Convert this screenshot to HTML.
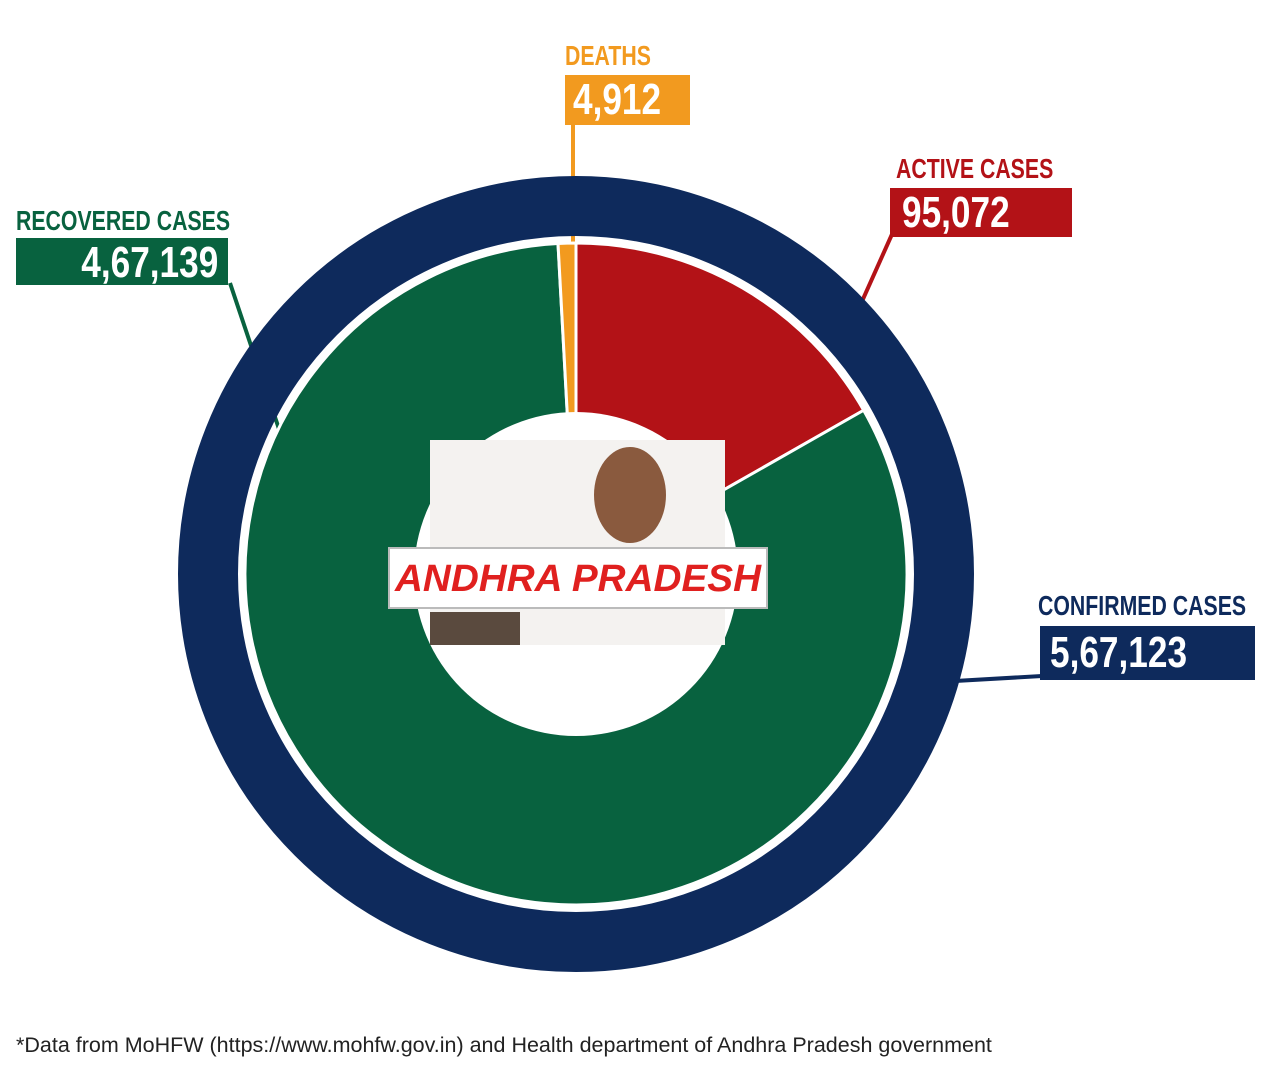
<!DOCTYPE html>
<html><head><meta charset="utf-8">
<style>
body{margin:0;background:#fff;width:1263px;height:1080px;overflow:hidden;position:relative;font-family:"Liberation Sans",sans-serif}
.t{position:absolute;font-family:"Liberation Sans",sans-serif;font-weight:bold;white-space:nowrap;transform:scaleX(0.76);transform-origin:0 0}
.box{position:absolute;color:#fff;font-family:"Liberation Sans",sans-serif;font-weight:bold;font-size:44px;line-height:50px;white-space:nowrap;box-sizing:border-box}
.box span{display:inline-block;transform:scaleX(0.8);transform-origin:0 0}
.box.r span{transform-origin:100% 0}
</style></head><body>
<svg id="chart" width="1263" height="1080" style="position:absolute;left:0;top:0">
  <g id="lines"></g>
  <circle cx="576" cy="574" r="368" fill="none" stroke="#0e2a5c" stroke-width="60"/>
  <g id="slices"></g>
  <circle cx="576" cy="574" r="162" fill="#fff"/>
  <rect x="430" y="440" width="295" height="205" fill="#f4f2f0"/>
  <ellipse cx="630" cy="495" rx="36" ry="48" fill="#8a5a3e"/>
  <rect x="430" y="612" width="90" height="33" fill="#5a4a3e"/>
  <rect x="389" y="548" width="378" height="60" fill="#fff" stroke="#bbb" stroke-width="2"/>
  <text x="578" y="591" text-anchor="middle" font-family="Liberation Sans" font-weight="bold" font-style="italic" font-size="38" fill="#e0201f" textLength="366" lengthAdjust="spacingAndGlyphs">ANDHRA PRADESH</text>
</svg>

<div class="t" style="left:565px;top:40px;font-size:28px;color:#f29a1f">DEATHS</div>
<div class="box" style="left:565px;top:75px;width:125px;height:50px;background:#f29a1f;padding-left:8px"><span>4,912</span></div>

<div class="t" style="left:896px;top:153px;font-size:28px;color:#b31217">ACTIVE CASES</div>
<div class="box" style="left:890px;top:188px;width:182px;height:49px;background:#b31217;padding-left:12px"><span>95,072</span></div>

<div class="t" style="left:16px;top:205px;font-size:28px;color:#08623f">RECOVERED CASES</div>
<div class="box r" style="left:16px;top:238px;width:212px;height:47px;background:#08623f;text-align:right;padding-right:10px"><span>4,67,139</span></div>

<div class="t" style="left:1038px;top:590px;font-size:28px;color:#0e2a5c">CONFIRMED CASES</div>
<div class="box" style="left:1040px;top:626px;width:215px;height:54px;background:#0e2a5c;padding-left:10px;line-height:54px"><span>5,67,123</span></div>

<div style="position:absolute;left:16px;top:1033px;font-size:21.5px;color:#222;white-space:nowrap">*Data from MoHFW (https://www.mohfw.gov.in) and Health department of Andhra Pradesh government</div>

<script>
const categories = ["Active", "Recovered", "Deaths"];
const values = [95072, 467139, 4912];
const colors = ["#b31217", "#08623f", "#f29a1f"];
const cx = 576, cy = 574, rOut = 331, rIn = 160;
const total = values.reduce((a, b) => a + b, 0);
const ns = "http://www.w3.org/2000/svg";
function pt(a, r) { return [cx + r * Math.sin(a), cy - r * Math.cos(a)]; }
let ang = 0;
const g = document.getElementById('slices');
values.forEach((v, i) => {
  const a0 = ang, a1 = ang + v / total * 2 * Math.PI; ang = a1;
  const large = (a1 - a0) > Math.PI ? 1 : 0;
  const p0 = pt(a0, rOut), p1 = pt(a1, rOut), q1 = pt(a1, rIn), q0 = pt(a0, rIn);
  const d = `M${p0[0]},${p0[1]} A${rOut},${rOut} 0 ${large} 1 ${p1[0]},${p1[1]} L${q1[0]},${q1[1]} A${rIn},${rIn} 0 ${large} 0 ${q0[0]},${q0[1]} Z`;
  const p = document.createElementNS(ns, 'path');
  p.setAttribute('d', d);
  p.setAttribute('fill', colors[i]);
  p.setAttribute('stroke', '#fff');
  p.setAttribute('stroke-width', '3');
  
  
  g.appendChild(p);
});
const lines = [
  ["#f29a1f", 573, 120, 573, 245],
  ["#b31217", 893, 232, 838, 355],
  ["#08623f", 230, 283, 280, 432],
  ["#0e2a5c", 1042, 676, 955, 681]
];
const lg = document.getElementById('lines');
lines.forEach((l, i) => {
  const e = document.createElementNS(ns, 'line');
  e.setAttribute('x1', l[1]); e.setAttribute('y1', l[2]);
  e.setAttribute('x2', l[3]); e.setAttribute('y2', l[4]);
  e.setAttribute('stroke', l[0]); e.setAttribute('stroke-width', '4');
  
  
  lg.appendChild(e);
});
</script>
</body></html>
